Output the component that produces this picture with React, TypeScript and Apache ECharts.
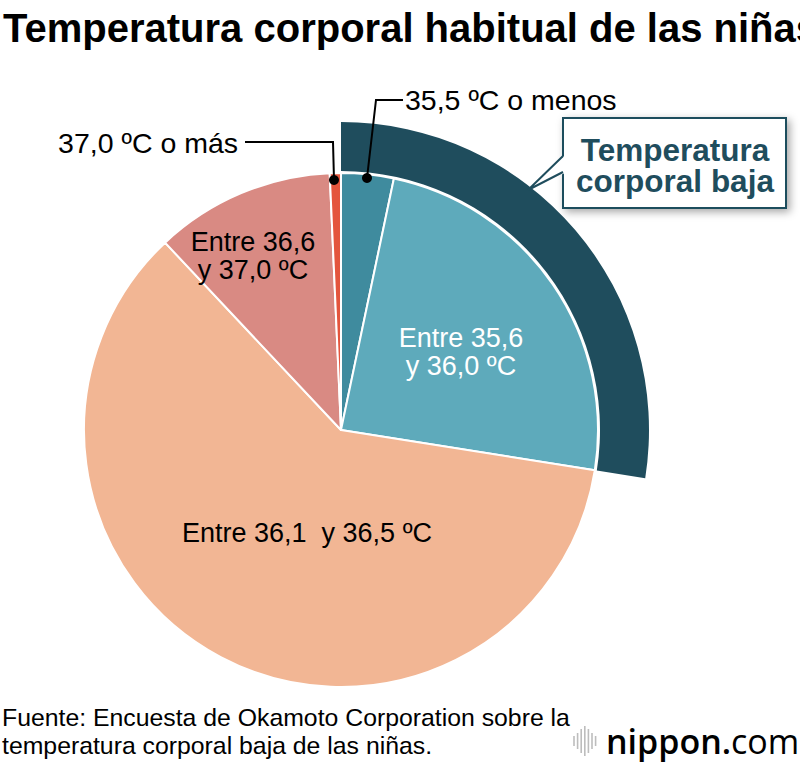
import React, { useEffect, useRef } from "react";
import * as echarts from "echarts";

const categories = [
  "35,5 ºC o menos",
  "Entre 35,6 y 36,0 ºC",
  "Entre 36,1 y 36,5 ºC",
  "Entre 36,6 y 37,0 ºC",
  "37,0 ºC o más",
];
const values = [3.3, 24.2, 60.5, 11.3, 0.7];
const sliceColors = ["#3f8b9e", "#5eaabb", "#f2b694", "#d98a83", "#e4553d"];
const lowLabelLines = ["Temperatura", "corporal baja"];
const titleText = "Temperatura corporal habitual de las niñas";
const sourceText = "Fuente: Encuesta de Okamoto Corporation sobre la\ntemperatura corporal baja de las niñas.";

const FONT = "'Liberation Sans', Arial, Helvetica, sans-serif";

export default function App() {
  const ref = useRef<HTMLDivElement>(null);
  useEffect(() => {
    if (!ref.current) return;
    const chart = echarts.init(ref.current, undefined, { renderer: "svg" });
    const lowTotal = values[0] + values[1];
    const total = values.reduce((a, b) => a + b, 0);

    const txt = (text: string, x: number, y: number, opts: any = {}) => ({
      type: "text",
      x,
      y,
      style: {
        text,
        fill: opts.fill || "#000",
        fontSize: opts.fontSize || 27,
        fontWeight: opts.fontWeight || "normal",
        fontFamily: FONT,
        align: opts.align || "center",
        textAlign: opts.align || "center",
        verticalAlign: "middle",
        textVerticalAlign: "middle",
        lineHeight: opts.lineHeight || 28,
      },
      z: 100,
    });

    const bars = [10, 16, 24, 30, 24, 16, 10];
    const barEls = bars.map((h, i) => ({
      type: "line",
      shape: { x1: 574 + i * 3.6, y1: 741 - h / 2, x2: 574 + i * 3.6, y2: 741 + h / 2 },
      style: { stroke: "#bdbdbd", lineWidth: 1.6 },
      z: 100,
    }));

    chart.setOption({
      animation: false,
      backgroundColor: "#fff",
      title: {
        text: titleText,
        left: 3,
        top: 8,
        padding: 0,
        textStyle: { fontSize: 40, fontWeight: "bold", color: "#000", fontFamily: FONT },
      },
      series: [
        {
          type: "pie",
          center: [341, 430],
          radius: [259, 308],
          startAngle: 90,
          clockwise: true,
          silent: true,
          label: { show: false },
          labelLine: { show: false },
          data: [
            { name: "low", value: lowTotal, itemStyle: { color: "#1f4d5d" } },
            { name: "rest", value: total - lowTotal, itemStyle: { color: "rgba(0,0,0,0)" } },
          ],
        },
        {
          type: "pie",
          center: [341, 430],
          radius: [0, 257],
          startAngle: 90,
          clockwise: true,
          silent: true,
          label: { show: false },
          labelLine: { show: false },
          itemStyle: { borderColor: "#fff", borderWidth: 2 },
          data: categories.map((c, i) => ({
            name: c,
            value: values[i],
            itemStyle: { color: sliceColors[i] },
          })),
        },
      ],
      graphic: [
        {
          type: "polyline",
          shape: { points: [[367, 178], [376, 100], [403, 100]] },
          style: { stroke: "#000", lineWidth: 2, fill: null },
          z: 100,
        },
        { type: "circle", shape: { cx: 367, cy: 178, r: 5 }, style: { fill: "#000" }, z: 100 },
        {
          type: "polyline",
          shape: { points: [[334, 180], [333, 142], [245, 142]] },
          style: { stroke: "#000", lineWidth: 2, fill: null },
          z: 100,
        },
        { type: "circle", shape: { cx: 334, cy: 180, r: 5 }, style: { fill: "#000" }, z: 100 },
        txt(categories[0], 405, 100, { align: "left", fontSize: 28.5 }),
        txt(categories[4], 238, 143, { align: "right", fontSize: 28.5 }),
        txt("Entre 35,6\ny 36,0 ºC", 461, 352, { fill: "#fff", lineHeight: 28 }),
        txt("Entre 36,1  y 36,5 ºC", 307, 533, {}),
        txt("Entre 36,6\ny 37,0 ºC", 253, 256, { lineHeight: 28 }),
        {
          type: "rect",
          shape: { x: 563, y: 118, width: 223, height: 90 },
          style: {
            fill: "#fff",
            stroke: "#1f4d5d",
            lineWidth: 2,
            shadowBlur: 8,
            shadowColor: "rgba(0,0,0,0.35)",
            shadowOffsetX: 3,
            shadowOffsetY: 3,
          },
          z: 100,
        },
        {
          type: "polygon",
          shape: { points: [[565, 155], [528, 190], [565, 173]] },
          style: { fill: "#fff" },
          z: 101,
        },
        {
          type: "polyline",
          shape: { points: [[563, 156], [528, 190], [563, 172]] },
          style: { stroke: "#1f4d5d", lineWidth: 2, fill: null },
          z: 101,
        },
        txt(lowLabelLines[0], 675, 150, { fill: "#1f4d5d", fontSize: 31.5, fontWeight: "bold", lineHeight: 31 }),
        txt(lowLabelLines[1], 675, 181, { fill: "#1f4d5d", fontSize: 31.5, fontWeight: "bold", lineHeight: 31 }),
        {
          type: "text",
          x: 2,
          y: 703,
          style: {
            text: sourceText,
            fill: "#000",
            fontSize: 24.8,
            fontFamily: FONT,
            lineHeight: 28,
          },
          z: 100,
        },
        ...barEls,
        {
          type: "text",
          x: 606,
          y: 741,
          style: {
            text: "{a|nippon}{b|.}{c|com}",
            verticalAlign: "middle",
            textVerticalAlign: "middle",
            rich: {
              a: { fontSize: 34, fontWeight: 600, fontFamily: "'Open Sans', sans-serif", color: "#6b6b6b" },
              b: { fontSize: 34, fontWeight: 600, fontFamily: "'Open Sans', sans-serif", color: "#e8302a" },
              c: { fontSize: 34, fontWeight: 400, fontFamily: "'Open Sans', sans-serif", color: "#9a9a9a" },
            },
          },
          z: 100,
        },
      ],
    });
    return () => chart.dispose();
  }, []);
  return (
    <div
      ref={ref}
      style={{ position: "absolute", left: 0, top: 0, width: 800, height: 764 }}
    />
  );
}
